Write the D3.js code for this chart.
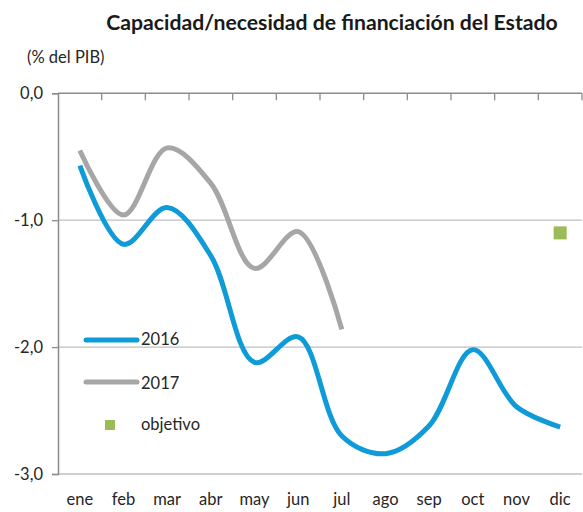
<!DOCTYPE html>
<html><head><meta charset="utf-8">
<script src="https://cdn.jsdelivr.net/npm/d3@7"></script>
<style>body{margin:0;background:#fff}svg{display:block}</style>
</head><body>
<svg id="c" width="583" height="512"></svg>
<script>
const months = ["ene","feb","mar","abr","may","jun","jul","ago","sep","oct","nov","dic"];
const v2016 = [-0.57,-1.19,-0.90,-1.28,-2.12,-1.92,-2.70,-2.84,-2.62,-2.02,-2.47,-2.63];
const v2017 = [-0.45,-0.96,-0.43,-0.71,-1.38,-1.09,-1.86];
const objetivo = [{m:"dic", v:-1.10}];
const yTicks = [0,-1,-2,-3];
const legendLabels = ["2016","2017","objetivo"];

const svg = d3.select("#c");
const m = {l:58, r:582, t:93.3, b:474};
const x = d3.scaleBand().domain(months).range([m.l,m.r]);
const y = d3.scaleLinear().domain([-3,0]).range([m.b,m.t]);
const font = "Lato, 'Open Sans', sans-serif";
const txt = "#262626";
const fs = 16.5;

// title
svg.append("text").attr("x",332).attr("y",30).attr("text-anchor","middle")
  .attr("font-family",font).attr("font-weight","bold").attr("font-size",21.2).attr("fill","#1a1a1a")
  .text("Capacidad/necesidad  de  financiación  del Estado");
svg.append("text").attr("x",27).attr("y",63).attr("font-family",font).attr("font-size",fs).attr("fill",txt)
  .text("(% del PIB)");

// gridlines
svg.append("g").selectAll("line").data(yTicks.filter(d=>d!==0)).join("line")
  .attr("x1",m.l).attr("x2",m.r).attr("y1",d=>y(d)).attr("y2",d=>y(d))
  .attr("stroke","#bfbfbf").attr("stroke-width",1.3);

// y axis
const ya = svg.append("g").attr("transform",`translate(${m.l},0)`)
  .call(d3.axisLeft(y).tickValues(yTicks).tickSize(6).tickFormat(d=>d3.format(".1f")(d).replace(".",",").replace("−","-")));
ya.select(".domain").attr("stroke","#8c8c8c").attr("stroke-width",1.5);
ya.selectAll(".tick line").attr("stroke","#8c8c8c").attr("stroke-width",1.3);
ya.selectAll("text").attr("font-family",font).attr("font-size",fs).attr("fill",txt).attr("x",-15).attr("dy","0.32em");

// x axis at 0 with ticks into plot at band boundaries
const xa = svg.append("g");
xa.append("line").attr("x1",m.l).attr("x2",m.r).attr("y1",y(0)).attr("y2",y(0)).attr("stroke","#8c8c8c").attr("stroke-width",1.5);
const bounds = months.map(d=>x(d)+x.bandwidth());
xa.selectAll("line.t").data(bounds).join("line").attr("class","t")
  .attr("x1",d=>d).attr("x2",d=>d).attr("y1",y(0)).attr("y2",y(0)+7).attr("stroke","#8c8c8c").attr("stroke-width",1.3);
svg.append("g").selectAll("text").data(months).join("text")
  .attr("x",d=>x(d)+x.bandwidth()/2).attr("y",505).attr("text-anchor","middle")
  .attr("font-family",font).attr("font-size",fs).attr("fill",txt).text(d=>d);

const line = d3.line().x((d,i)=>x(months[i])+x.bandwidth()/2).y(d=>y(d)).curve(d3.curveCatmullRom.alpha(0.5));
svg.append("path").datum(v2017).attr("d",line).attr("fill","none").attr("stroke","#a6a6a6").attr("stroke-width",5);
svg.append("path").datum(v2016).attr("d",line).attr("fill","none").attr("stroke","#0f9bd7").attr("stroke-width",5);

svg.selectAll("rect.obj").data(objetivo).join("rect").attr("class","obj")
  .attr("x",d=>x(d.m)+x.bandwidth()/2-6.5).attr("y",d=>y(d.v)-6.5).attr("width",13).attr("height",13).attr("fill","#9bbb59");

// legend
const lg = svg.append("g");
lg.append("line").attr("x1",86).attr("x2",137).attr("y1",340).attr("y2",340).attr("stroke","#0f9bd7").attr("stroke-width",5).attr("stroke-linecap","round");
lg.append("line").attr("x1",86).attr("x2",137).attr("y1",382).attr("y2",382).attr("stroke","#a6a6a6").attr("stroke-width",5).attr("stroke-linecap","round");
lg.append("rect").attr("x",105).attr("y",420).attr("width",10).attr("height",10).attr("fill","#9bbb59");
[345,389,430].forEach((yy,i)=>{
  lg.append("text").attr("x",141).attr("y",yy).attr("font-family",font).attr("font-size",fs).attr("fill",txt).text(legendLabels[i]);
});
</script>
</body></html>
